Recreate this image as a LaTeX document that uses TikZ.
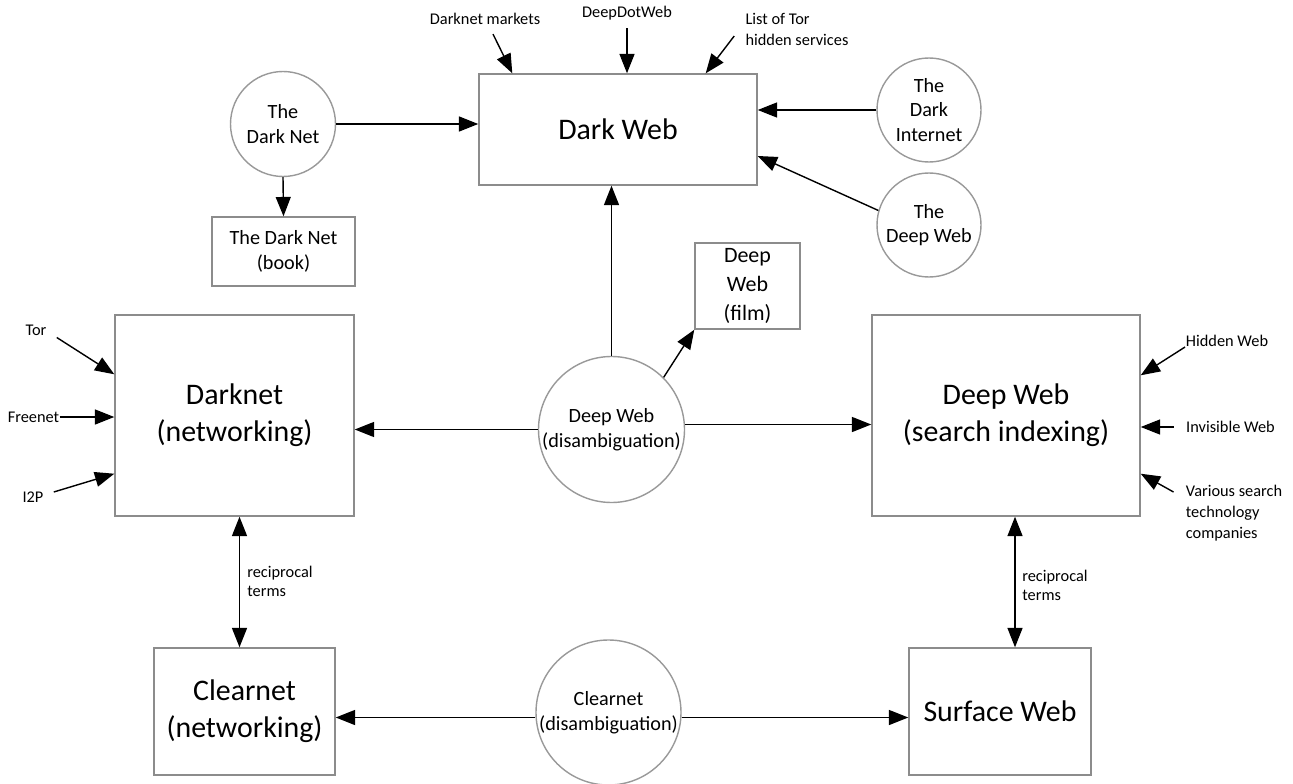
\documentclass[tikz,border=0pt]{standalone}
\usepackage{fontspec}
\setmainfont{Carlito}
\usetikzlibrary{arrows.meta}
\tikzset{
	bigbox/.style={draw=black!45, line width=0.8pt, inner sep=0pt, align=center, font=\fontsize{17}{21}\selectfont},
	smallbox/.style={draw=black!45, line width=0.8pt, inner sep=0pt, align=center, font=\fontsize{11.5}{14}\selectfont},
	disc/.style={circle, draw=black!40, line width=0.8pt, inner sep=0pt, align=center, font=\fontsize{11.5}{14}\selectfont},
	lbl/.style={inner sep=0pt, align=left, font=\fontsize{9.3}{12}\selectfont},
	arr/.style={-{Triangle[length=11pt,width=8.5pt]}, line width=0.8pt},
	twoway/.style={{Triangle[length=11pt,width=8.5pt]}-{Triangle[length=11pt,width=8.5pt]}, line width=0.8pt}
}

\begin{document}
\begin{tikzpicture}
			%%%%% START %%%%%
			\useasboundingbox (0, 0) rectangle (25.86, 15.66);
			
			\node[bigbox, minimum width=5.56cm, minimum height=2.22cm] (darkweb) at (12.36, 13.07) {Dark Web};
			\node[bigbox, minimum width=4.78cm, minimum height=4.02cm] (darknet) at (4.69, 7.35) {Darknet\\(networking)};
			\node[bigbox, minimum width=5.36cm, minimum height=4.02cm] (deepsearch) at (20.12, 7.35) {Deep Web\\(search indexing)};
			\node[bigbox, minimum width=3.62cm, minimum height=2.54cm] (clearnet) at (4.89, 1.43) {Clearnet\\(networking)};
			\node[bigbox, minimum width=3.64cm, minimum height=2.54cm] (surface) at (20.0, 1.43) {Surface Web};
			
			\node[smallbox, minimum width=2.86cm, minimum height=1.38cm] (book) at (5.67, 10.63) {The Dark Net\\(book)};
			\node[smallbox, minimum width=2.1cm, minimum height=1.72cm, font=\fontsize{12.5}{16.4}\selectfont] (film) at (14.95, 9.94) {Deep\\Web\\(film)};
			
			\node[disc, minimum size=2.1cm] (darknetcirc) at (5.66, 13.18) {The\\Dark Net};
			\node[disc, minimum size=2.08cm] (darkinternet) at (18.58, 13.46) {The\\Dark\\Internet};
			\node[disc, minimum size=2.08cm] (thedeepweb) at (18.58, 11.16) {The\\Deep Web};
			\node[disc, minimum size=2.92cm] (dwdis) at (12.23, 7.07) {Deep Web\\(disambiguation)};
			\node[disc, minimum size=2.9cm] (cndis) at (12.17, 1.41) {Clearnet\\(disambiguation)};
			
			% labels round the boxes
			\node[lbl] (mkts) at (9.7, 15.28) {Darknet markets};
			\node[lbl] (ddw) at (12.54, 15.4) {DeepDotWeb};
			\node[lbl] (torlist) at (15.94, 15.07) {List of Tor\\hidden services};
			\node[lbl] (tor) at (0.72, 9.06) {Tor};
			\node[lbl] (freenet) at (0.67, 7.32) {Freenet};
			\node[lbl] (itwop) at (0.66, 5.72) {I2P};
			\node[lbl] (hidden) at (24.54, 8.84) {Hidden Web};
			\node[lbl] (invis) at (24.61, 7.12) {Invisible Web};
			\node[lbl] (various) at (24.68, 5.4) {Various search\\technology\\companies};
			\node[lbl, anchor=west, font=\fontsize{9.3}{10.8}\selectfont] (recipl) at (4.94, 4.04) {reciprocal\\terms};
			\node[lbl, anchor=west, font=\fontsize{9.3}{10.8}\selectfont] (recipr) at (20.44, 3.96) {reciprocal\\terms};
			
			\coordinate (lr) at ([xshift=-1mm]clearnet.north);
			\coordinate (rr) at ([xshift=3mm]surface.north);
			
			% connectors
			\draw[arr] ([xshift=1.6mm, yshift=-1.8mm]mkts.south) -- ([xshift=6.8mm]darkweb.north west);
			\draw[arr, shorten <=1.6mm] (ddw.south) -- (ddw.south |- darkweb.north);
			\draw[arr] ([xshift=-2.2mm, yshift=-1.3mm]torlist.west) -- ([xshift=-10.4mm]darkweb.north east);
			\draw[arr] (darknetcirc.east) -- (darknetcirc.east -| darkweb.west);
			\draw[arr] (darknetcirc.south) -- (book.north);
			\draw[arr] (darkinternet.west) -- (darkinternet.west -| darkweb.east);
			\draw[arr] (thedeepweb.164) -- ([yshift=-5.3mm]darkweb.east);
			
			\draw[arr] (dwdis.north) -- (dwdis.north |- darkweb.south);
			\draw[arr] (dwdis.45) -- (film.south west);
			\draw[arr] (dwdis.west) -- (dwdis.west -| darknet.east);
			\draw[arr] ([yshift=1mm]dwdis.east) -- ([yshift=1mm]dwdis.east -| deepsearch.west);
			
			\draw[arr] ([xshift=2mm, yshift=-1.5mm]tor.east) -- ([yshift=-1.2cm]darknet.north west);
			\draw[arr] (freenet.east) -- (freenet.east -| darknet.west);
			\draw[arr] ([xshift=2mm, yshift=1mm]itwop.east) -- ([yshift=0.86cm]darknet.south west);
			
			\draw[arr] ([xshift=-0.1mm, yshift=-1.2mm]hidden.west) -- ([yshift=-1.22cm]deepsearch.north east);
			\draw[arr, shorten <=2.4mm] (invis.west) -- (invis.west -| deepsearch.east);
			\draw[arr] ([xshift=-2.4mm, yshift=4.2mm]various.west) -- ([yshift=0.86cm]deepsearch.south east);
			
			\draw[twoway] (lr |- darknet.south) -- (lr);
			\draw[twoway] (rr |- deepsearch.south) -- (rr);
			
			\draw[arr] ([yshift=-1mm]cndis.west) -- ([yshift=-1mm]cndis.west -| clearnet.east);
			\draw[arr] ([yshift=-1mm]cndis.east) -- ([yshift=-1mm]cndis.east -| surface.west);
			
			%%%%% END %%%%%
\end{tikzpicture}
\end{document}
